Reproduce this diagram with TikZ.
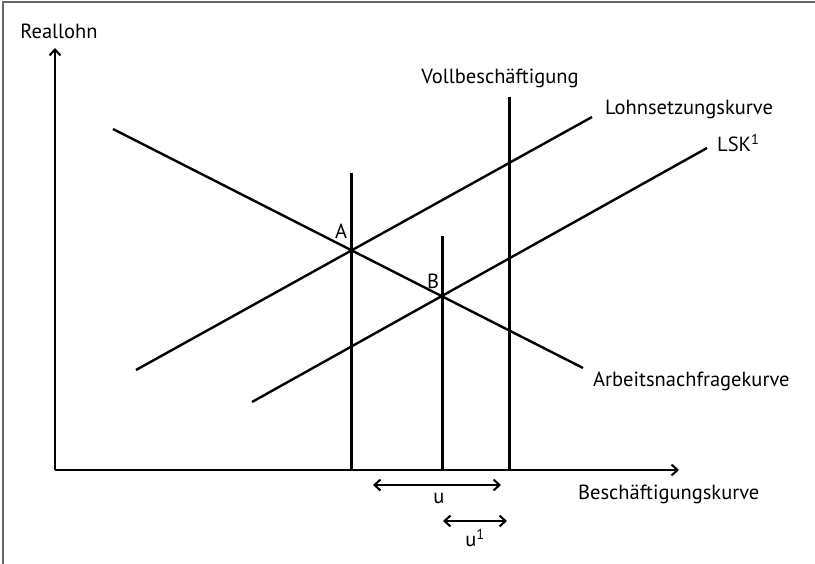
\documentclass[tikz,border=0pt]{standalone}
\usepackage{fontspec}
\setmainfont{PT Sans}
\usetikzlibrary{arrows.meta}
\begin{document}
\begin{tikzpicture}[x=1pt,y=-1pt,
  curve/.style={line width=2.4pt},
  vline/.style={line width=3pt},
  axis/.style={line width=2.6pt,-{Straight Barb[length=6pt,width=11pt,line width=2pt]}},
  dim/.style={line width=2.4pt,{Straight Barb[length=6pt,width=11pt,line width=2pt]}-{Straight Barb[length=6pt,width=11pt,line width=2pt]}},
  lbl/.style={font=\fontsize{20.5}{23}\selectfont, inner sep=0pt}]
\useasboundingbox (0,0) rectangle (815,564);
\fill[white] (0,0) rectangle (815,564);
% frame
\coordinate (fTL) at (3,2); \coordinate (fTR) at (815,2); \coordinate (fBL) at (3,564);
\draw[gray!80!black, line width=1.8pt] (fBL) -- (fTL) -- (fTR);
% axes
\coordinate (O) at (55,470);
\coordinate (Ytop) at (55,48);
\coordinate (Xend) at (679,470);
\draw[axis] (O) -- (Ytop);
\draw[axis] (O) -- (Xend);
\node[lbl] (reallohn) at (59,31) {Reallohn};
\node[lbl, anchor=west] (besch) at (578,494) {Beschäftigungskurve};
% vertical lines
\coordinate (vAt) at (351,173); \coordinate (vAb) at (351,470);
\coordinate (vBt) at (442,236); \coordinate (vBb) at (442,470);
\coordinate (vVt) at (509,97);  \coordinate (vVb) at (509,470);
\draw[vline] (vAb) -- (vAt);
\draw[vline] (vBb) -- (vBt);
\draw[vline] (vVb) -- (vVt);
\node[lbl] (voll) at (500,78) {Vollbeschäftigung};
% curves
\coordinate (ANs) at (113,129); \coordinate (ANe) at (583,368);
\coordinate (LSs) at (136,370); \coordinate (LSe) at (592,117);
\coordinate (L1s) at (252,402); \coordinate (L1e) at (707,148);
\draw[curve] (ANs) -- (ANe);
\draw[curve] (LSs) -- (LSe);
\draw[curve] (L1s) -- (L1e);
\node[lbl, anchor=west] (lsk) at (605,109) {Lohnsetzungskurve};
\node[lbl, anchor=west] (lsk1) at (717,143) {LSK\textsuperscript{1}};
\node[lbl, anchor=west] (anf) at (593,381) {Arbeitsnachfragekurve};
% points
\node[lbl] (A) at (341,231) {A};
\node[lbl] (B) at (433,281) {B};
% u arrows
\coordinate (u1) at (373,485); \coordinate (u2) at (501,485);
\coordinate (v1) at (443,521); \coordinate (v2) at (507,521);
\draw[dim] (u1) -- (u2);
\draw[dim] (v1) -- (v2);
\node[lbl] (u) at (439,498) {u};
\node[lbl] (uu) at (475,538) {u\textsuperscript{1}};
\end{tikzpicture}
\end{document}
